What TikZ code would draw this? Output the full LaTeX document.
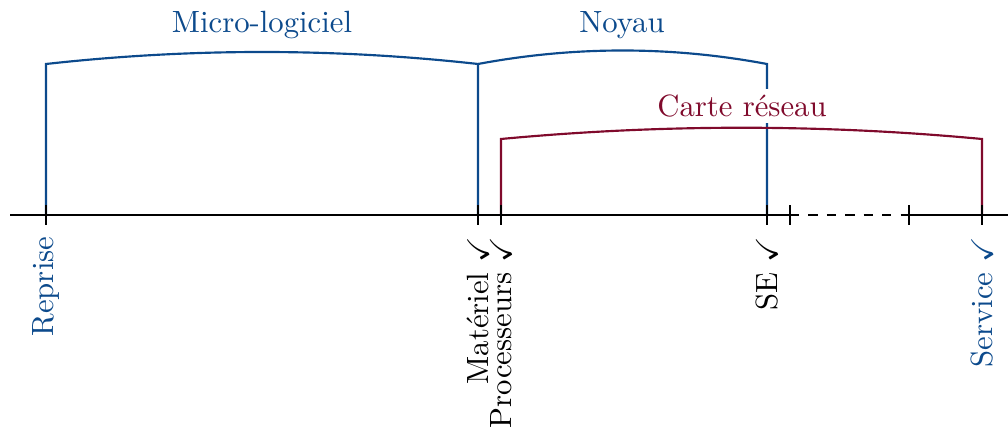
\documentclass[tikz,border=0pt]{standalone}
\usepackage{amssymb}
\definecolor{cblue}{RGB}{12,74,140}
\definecolor{cred}{RGB}{128,10,44}
\begin{document}
\begin{tikzpicture}[x=0.3255pt,y=-0.3255pt,
  axisline/.style={black,line width=0.75pt},
  tickmark/.style={black,line width=0.75pt},
  brace/.style={line width=0.7pt},
  toplabel/.style={inner sep=1pt},
  ticklabel/.style={rotate=90,anchor=east,inner sep=1pt}]
\useasboundingbox (0,0) rectangle (1008,430);
% axis positions
\coordinate (a0) at (10,215);
\coordinate (t1) at (46,215);
\coordinate (t2) at (478,215);
\coordinate (t3) at (501,215);
\coordinate (t4) at (767,215);
\coordinate (t5) at (790,215);
\coordinate (t6) at (909,215);
\coordinate (t7) at (982,215);
\coordinate (a1) at (1008,215);
% bracket tops
\coordinate (m1) at (46,64);
\coordinate (m2) at (478,64);
\coordinate (n2) at (767,64);
\coordinate (c1) at (501,139);
\coordinate (c2) at (982,139);
% blue brackets
\draw[brace,cblue] (t1) -- (m1) .. controls (190,48) and (334,48) .. (m2) -- (t2);
\draw[brace,cblue] (m2) .. controls (574,46) and (671,46) .. (n2) -- (t4);
\node[toplabel,text=cblue] (lmicro) at (262,25) {Micro-logiciel};
\node[toplabel,text=cblue] (lnoyau) at (622,25) {Noyau};
% red bracket
\node[toplabel,text=cred,fill=white,inner sep=2pt] (lcarte) at (742,106) {Carte réseau};
\draw[brace,cred] (t3) -- (c1) .. controls (661,124) and (822,124) .. (c2) -- (t7);
% axis
\draw[axisline] (a0) -- (t5);
\draw[axisline,dashed] (t5) -- (t6);
\draw[axisline] (t6) -- (a1);
\foreach \t in {t1,t2,t3,t4,t5,t6,t7}{
  \draw[tickmark] ([yshift=-3.2pt]\t) -- ([yshift=3.2pt]\t);
}
% labels
\node[ticklabel,text=cblue] (lrep) at (46,233) {Reprise};
\node[ticklabel] (lmat) at (478,233) {Matériel \checkmark};
\node[ticklabel] (lpro) at (501,233) {Processeurs \checkmark};
\node[ticklabel] (lse) at (767,233) {SE \checkmark};
\node[ticklabel,text=cblue] (lser) at (982,233) {Service \checkmark};
\end{tikzpicture}
\end{document}
